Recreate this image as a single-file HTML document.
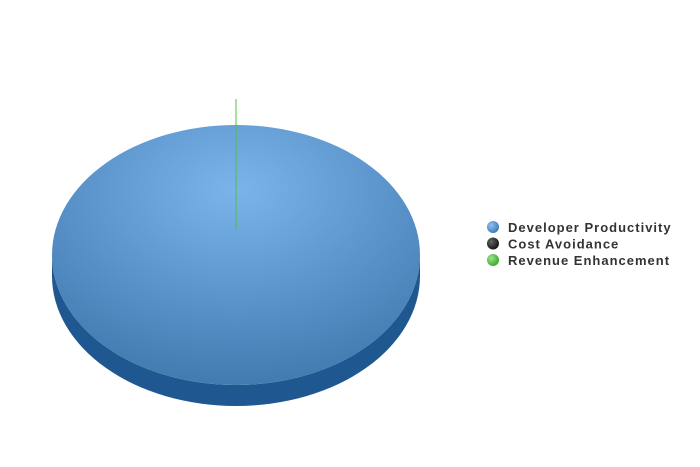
<!DOCTYPE html>
<html><head><meta charset="utf-8"><style>
body{margin:0;background:#fff;}
svg{display:block;font-family:"Liberation Sans",sans-serif;}
</style></head><body>
<svg id="chart" width="700" height="467">
<defs>
<radialGradient id="gBlue" cx="0.5" cy="0.25" r="0.8">
<stop offset="0" stop-color="#7ab4ea"/><stop offset="1" stop-color="#3f77ad"/>
</radialGradient>
<radialGradient id="lb" cx="0.35" cy="0.35" r="0.7"><stop offset="0" stop-color="#8fc3f0"/><stop offset="1" stop-color="#3a78b8"/></radialGradient>
<radialGradient id="lk" cx="0.35" cy="0.35" r="0.7"><stop offset="0" stop-color="#666"/><stop offset="1" stop-color="#111"/></radialGradient>
<radialGradient id="lg" cx="0.35" cy="0.35" r="0.7"><stop offset="0" stop-color="#9be58a"/><stop offset="1" stop-color="#3aa52e"/></radialGradient>
</defs>
<g id="pie"></g>
<g id="legend"></g>
</svg>
<script>
const categories=["Developer Productivity","Cost Avoidance","Revenue Enhancement"];
const values=[100,0,0];
const colors=["url(#gBlue)","#222","#4cc43c"];
const legendFills=["url(#lb)","url(#lk)","url(#lg)"];
const NS="http://www.w3.org/2000/svg";
const cx=236,cy=255,rx=184,ry=130,depth=21;
const pie=document.getElementById('pie'),leg=document.getElementById('legend');
function mk(t,a,p){const e=document.createElementNS(NS,t);for(const k in a)e.setAttribute(k,a[k]);p.appendChild(e);return e;}
const total=values.reduce((a,b)=>a+b,0);
const side=mk('path',{d:`M${cx-rx},${cy} A${rx},${ry} 0 0 0 ${cx+rx},${cy} L${cx+rx},${cy+depth} A${rx},${ry} 0 0 1 ${cx-rx},${cy+depth} Z`,fill:'#1f5890'},pie);


let ang=-Math.PI/2;
const lines=[];
values.forEach((v,i)=>{
  const frac=v/total,a2=ang+frac*2*Math.PI;
  if(frac>=0.9999){
    const el=mk('ellipse',{cx:cx,cy:cy,rx:rx,ry:ry,fill:colors[i]},pie);
    
    
  }else if(frac>0){
    const x1=cx+rx*Math.cos(ang),y1=cy+ry*Math.sin(ang),x2=cx+rx*Math.cos(a2),y2=cy+ry*Math.sin(a2);
    const el=mk('path',{d:`M${cx},${cy} L${x1},${y1} A${rx},${ry} 0 ${frac>0.5?1:0} 1 ${x2},${y2} Z`,fill:colors[i]},pie);
    
    
  }else{lines.push([i,ang]);}
  ang=a2;
});
lines.forEach(([i,a])=>{
  const el=mk('line',{x1:cx,y1:cy-25,stroke:colors[i],'stroke-width':1},pie);
  el.setAttribute('x2',cx+(ry+26)*Math.cos(a));
  el.setAttribute('y2',cy+(ry+26)*Math.sin(a));
  
  
});
categories.forEach((c,i)=>{
  const y=227+i*16.5;
  const g=mk('g',{},leg);
  
  
  mk('circle',{cx:493,cy:y,r:6,fill:legendFills[i]},g);
  const t=mk('text',{x:508,y:y+5,'font-size':13,'font-weight':'bold',fill:'#333','letter-spacing':'1'},g);
  t.textContent=c;
});
</script>
</body></html>
